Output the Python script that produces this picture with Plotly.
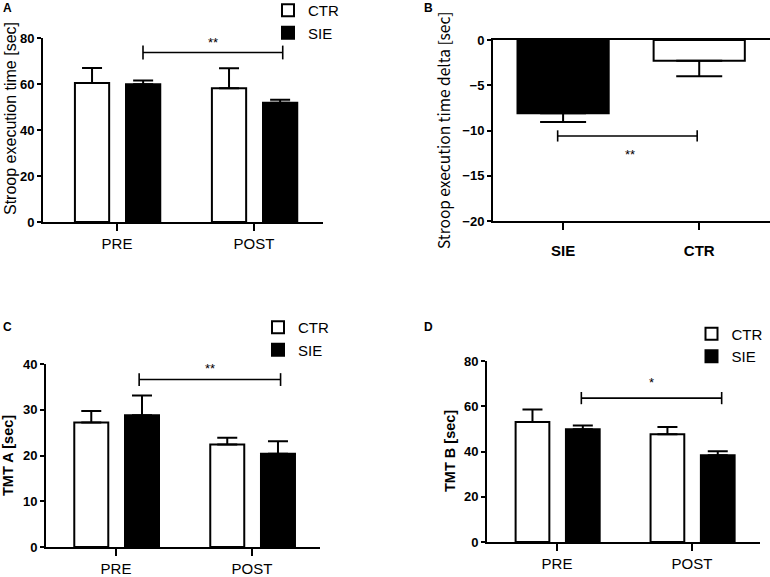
import plotly.graph_objects as go

# ---------------- data ----------------
groups = ["PRE", "POST"]

# Panel A: Stroop execution time [sec]
stroop_ctr = [60.4, 58.2]
stroop_ctr_err = [6.6, 8.7]
stroop_sie = [59.9, 51.9]
stroop_sie_err = [1.6, 1.3]

# Panel B: Stroop execution time delta [sec]
delta_groups = ["SIE", "CTR"]
delta_vals = [-8.1, -2.3]
delta_err = [0.95, 1.7]

# Panel C: TMT A [sec]
tmta_ctr = [27.2, 22.4]
tmta_ctr_err = [2.5, 1.5]
tmta_sie = [28.8, 20.4]
tmta_sie_err = [4.3, 2.7]

# Panel D: TMT B [sec]
tmtb_ctr = [53.0, 47.6]
tmtb_ctr_err = [5.6, 3.2]
tmtb_sie = [49.8, 38.3]
tmtb_sie_err = [1.7, 1.8]

# ---------------- figure ----------------
W, H = 770, 577
BLACK = "black"
FONT = "Liberation Sans"
BAR_W = 0.25


def px(x):
    return x / W


def py(y):
    return 1 - y / H


fig = go.Figure()


def add_pair(ctr, ctr_err, sie, sie_err, xa, ya, legend, show):
    fig.add_trace(go.Bar(
        x=groups, y=ctr, name="CTR", xaxis=xa, yaxis=ya, legend=legend,
        showlegend=show, width=BAR_W, offset=-0.307,
        marker=dict(color="white", line=dict(color=BLACK, width=2)),
        error_y=dict(type="data", symmetric=False, array=ctr_err,
                     arrayminus=[0] * len(ctr), thickness=2, width=10, color=BLACK),
    ))
    fig.add_trace(go.Bar(
        x=groups, y=sie, name="SIE", xaxis=xa, yaxis=ya, legend=legend,
        showlegend=show, width=BAR_W, offset=0.066,
        marker=dict(color=BLACK, line=dict(color=BLACK, width=2)),
        error_y=dict(type="data", symmetric=False, array=sie_err,
                     arrayminus=[0] * len(sie), thickness=2, width=10, color=BLACK),
    ))


add_pair(stroop_ctr, stroop_ctr_err, stroop_sie, stroop_sie_err, "x", "y", "legend", True)
add_pair(tmta_ctr, tmta_ctr_err, tmta_sie, tmta_sie_err, "x3", "y3", "legend2", True)
add_pair(tmtb_ctr, tmtb_ctr_err, tmtb_sie, tmtb_sie_err, "x4", "y4", "legend3", True)

fig.add_trace(go.Bar(
    x=delta_groups, y=delta_vals, xaxis="x2", yaxis="y2", showlegend=False,
    width=0.67,
    marker=dict(color=[BLACK, "white"], line=dict(color=BLACK, width=2)),
    error_y=dict(type="data", symmetric=False, array=[0] * len(delta_vals),
                 arrayminus=delta_err, thickness=2, width=23, color=BLACK),
))


def xaxis(domain, rng, anchor, size=15, bold=False, standoff=None):
    d = dict(domain=domain, range=rng, anchor=anchor, type="category",
             showline=True, linecolor=BLACK, linewidth=2,
             ticks="outside", ticklen=7, tickwidth=2, tickcolor=BLACK,
             showgrid=False, zeroline=False, fixedrange=True,
             tickfont=dict(family=FONT, size=size, color=BLACK,
                           weight="bold" if bold else "normal"))
    if standoff is not None:
        d["ticklabelstandoff"] = standoff
    return d


def yaxis(domain, rng, anchor, dtick, size=13):
    return dict(domain=domain, range=rng, anchor=anchor, dtick=dtick,
                showline=True, linecolor=BLACK, linewidth=2,
                ticks="outside", ticklen=4, tickwidth=2, tickcolor=BLACK,
                showgrid=False, zeroline=False, fixedrange=True,
                tickfont=dict(family=FONT, size=size, color=BLACK, weight="bold"))


layout = dict(
    width=W, height=H, margin=dict(l=0, r=0, t=0, b=0, autoexpand=False),
    paper_bgcolor="white", plot_bgcolor="white",
    barmode="group",
    font=dict(family=FONT, color=BLACK),
    xaxis=xaxis([px(43), px(323)], [-0.54, 1.504], "y"),
    yaxis=yaxis([py(222), py(38)], [0, 80], "x", 20),
    xaxis2=xaxis([px(493), px(770)], [-0.515, 1.52], "y2", size=15, bold=True, standoff=8),
    yaxis2=yaxis([py(221), py(40)], [-20, 0], "x2", 5, size=13),
    xaxis3=xaxis([px(46), px(320)], [-0.515, 1.5], "y3"),
    yaxis3=yaxis([py(547), py(364)], [0, 40], "x3", 10),
    xaxis4=xaxis([px(487), px(760)], [-0.519, 1.504], "y4"),
    yaxis4=yaxis([py(542), py(361)], [0, 80], "x4", 20),
)
layout["xaxis2"]["mirror"] = True

leg = dict(font=dict(family=FONT, size=15, color=BLACK), bgcolor="rgba(0,0,0,0)",
           itemwidth=30, traceorder="normal", xanchor="left", yanchor="top",
           tracegroupgap=0)
layout["legend"] = dict(leg, x=px(268), y=py(-6))
layout["legend2"] = dict(leg, x=px(258), y=py(311))
layout["legend3"] = dict(leg, x=px(691.5), y=py(317.5))
fig.update_layout(**layout)

# panel letters
for letter, x, y in [("A", 7, 8), ("B", 428, 8), ("C", 7, 327), ("D", 428, 327)]:
    fig.add_annotation(text=letter, x=px(x), y=py(y), xref="paper", yref="paper",
                       showarrow=False, xanchor="center", yanchor="middle",
                       font=dict(family=FONT, size=12, color=BLACK, weight="bold"))

# axis titles
titles = [
    ("Stroop execution time [sec]", 10, 119, FONT, 16, "normal"),
    ("Stroop execution time delta [sec]", 443, 130, "Noto Sans CJK JP", 15.5, "normal"),
    ("TMT A [sec]", 8, 456, FONT, 14.5, "bold"),
    ("TMT B [sec]", 450, 451, FONT, 14.5, "bold"),
]
for t, x, y, fam, sz, wt in titles:
    fig.add_annotation(text=t, x=px(x), y=py(y), xref="paper", yref="paper",
                       showarrow=False, textangle=-90, xanchor="center", yanchor="middle",
                       font=dict(family=fam, size=sz, color=BLACK, weight=wt))

# significance brackets (data coordinates)
sig = [
    ("x", "y", 0.19, 1.21, 73.7, 3.0, "**", 0.70, 78.0),
    ("x2", "y2", -0.04, 0.985, -10.6, 0.62, "**", 0.49, -12.7),
    ("x3", "y3", 0.17, 1.21, 36.6, 1.4, "**", 0.69, 39.0),
    ("x4", "y4", 0.18, 1.22, 63.6, 2.7, "*", 0.70, 70.7),
]
for xa, ya, x0, x1, y, h, lab, tx, ty in sig:
    xr, yr = xa, ya
    line = dict(color=BLACK, width=1.6)
    fig.add_shape(type="line", xref=xr, yref=yr, x0=x0, x1=x1, y0=y, y1=y, line=line)
    fig.add_shape(type="line", xref=xr, yref=yr, x0=x0, x1=x0, y0=y - h, y1=y + h, line=line)
    fig.add_shape(type="line", xref=xr, yref=yr, x0=x1, x1=x1, y0=y - h, y1=y + h, line=line)
    fig.add_annotation(text=lab, x=tx, y=ty, xref=xr, yref=yr, showarrow=False,
                       font=dict(family=FONT, size=13, color=BLACK))

# page body has a default 8px margin; remove it so the figure sits at the window origin
fig.write_html("out.html", config={"displayModeBar": False},
               post_script="document.body.style.margin='0';")
